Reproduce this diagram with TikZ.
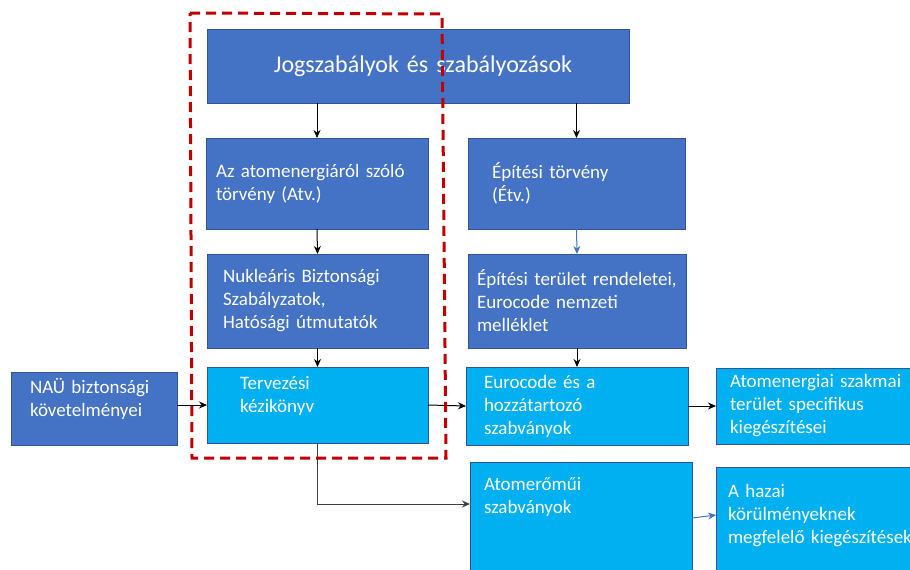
\documentclass[tikz,border=0pt]{standalone}
\usepackage{fontspec}
\setmainfont{Carlito}
\usepackage{tikz}
\usetikzlibrary{arrows.meta}
\definecolor{darkblue}{RGB}{68,114,196}
\definecolor{lightblue}{RGB}{0,176,240}
\definecolor{edgeblue}{RGB}{47,85,151}
\definecolor{darkred}{RGB}{192,0,0}
\definecolor{linegray}{RGB}{64,64,64}

\begin{document}
\begin{tikzpicture}[->,>={Stealth[length=8pt,width=7pt]},x=1pt,y=-1pt,line width=1pt,
  dark box/.style={rectangle,draw=edgeblue,fill=darkblue,text=white,anchor=north west,
    align=left,inner ysep=0pt,outer sep=0pt,line width=0.8pt,font=\fontsize{19}{23}\selectfont},
  light box/.style={dark box,fill=lightblue},
  blue arrow/.style={draw=darkblue,line width=1pt}]

  \clip (0,0) rectangle (910,570);

  \node[dark box,align=center,inner xsep=0pt,text width=422pt,minimum height=74pt,
    font=\fontsize{24}{29}\selectfont] (jog) at (207,29) {\hspace*{10pt}Jogszabályok és szabályozások};
  \node[dark box,minimum width=222pt,minimum height=91pt,text width=202pt,inner xsep=10pt] (atv) at (206,138) {Az atomenergiáról szóló\\törvény (Atv.)};
  \node[dark box,minimum width=221pt,minimum height=94pt,text width=189pt,inner xsep=16pt] (nbsz) at (207,254) {Nukleáris Biztonsági\\Szabályzatok,\\Hatósági útmutatók};
  \node[light box,minimum width=221pt,minimum height=76pt,text width=155pt,inner xsep=33pt,text depth=44pt] (terv) at (207,367) {Tervezési\\kézikönyv};
  \node[dark box,minimum width=166pt,minimum height=73pt,text width=128pt,inner xsep=19pt,text depth=46pt] (nau) at (11,372) {NAÜ biztonsági\\követelményei};

  \node[dark box,minimum width=217pt,minimum height=91pt,text width=169pt,inner xsep=24pt] (etv) at (468,138) {Építési törvény\\(Étv.)};
  \node[dark box,minimum width=218pt,minimum height=94pt,text width=200pt,inner xsep=9pt] (eter) at (468,254) {Építési terület rendeletei,\\Eurocode nemzeti\\melléklet};
  \node[light box,minimum width=222pt,minimum height=78pt,text width=186pt,inner xsep=18pt] (euro) at (466,367) {Eurocode és a\\hozzátartozó\\szabványok};
  \node[light box,minimum width=214pt,minimum height=76pt,text width=186pt,inner xsep=14pt] (spec) at (716,368) {Atomenergiai szakmai\\terület specifikus\\kiegészítései};
  \node[light box,text width=194pt,inner xsep=14pt,inner ysep=14pt,text height=14pt,text depth=100pt] (atom) at (470,462) {Atomerőműi\\szabványok};
  \node[light box,text width=236pt,inner xsep=12pt,inner ysep=15pt,text height=15pt,text depth=100pt] (hazai) at (716,467) {A hazai\\körülményeknek\\megfelelő kiegészítések};

\path
    (jog.south -| atv.north) edge (atv.north)
    (jog.south -| etv.north) edge (etv.north)
    (atv.south) edge (nbsz.north)
    (nbsz.south) edge (terv.north)
    (eter.south) edge (euro.north)
    (nau.east |- terv.west) edge (terv.west)
    (terv.east) edge (euro.west)
    (euro.east) edge (spec.west);

  \draw[blue arrow] (etv.south) -- (eter.north);
  \coordinate (atomin) at ([yshift=-42pt]atom.north west);
  \draw[draw=linegray] (terv.south) |- (atomin);
  \draw[blue arrow] ([yshift=-56pt]atom.north east) -- ([yshift=-48pt]hazai.north west);

  % kiemelt terulet
  \draw[-,darkred,line width=3pt,dash pattern=on 10pt off 6pt]
    (190,13) -- (442,14) -- (446,458) -- (192,458) -- cycle;
\end{tikzpicture}
\end{document}
